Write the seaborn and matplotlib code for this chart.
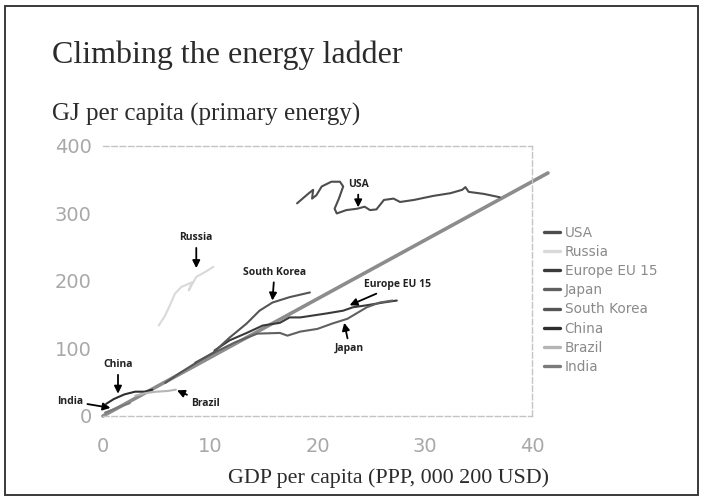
import numpy as np
import pandas as pd
import matplotlib
matplotlib.use("Agg")
import matplotlib.pyplot as plt
from matplotlib.patches import Rectangle
import seaborn as sns

# GDP per capita (thousand USD, PPP) and primary energy per capita (GJ)
usa_gdp = [18.1, 19.2, 19.6, 19.5, 19.9, 20.4, 21.3, 22.1, 22.4, 22.0, 21.6, 21.8,
           22.7, 23.7, 24.4, 24.9, 25.5, 26.2, 27.1, 27.7, 29.0, 30.8, 32.4, 33.5,
           33.8, 34.1, 35.5, 37.0]
usa_gj = [315, 330, 335, 322, 327, 340, 347, 347, 340, 322, 307, 300,
          305, 307, 310, 305, 306, 320, 322, 317, 320, 326, 330, 335,
          339, 332, 329, 324]

russia_gdp = [5.2, 5.8, 6.3, 6.7, 7.3, 8.3, 8.0, 8.7, 9.5, 10.3]
russia_gj = [134, 149, 166, 181, 191, 198, 186, 206, 213, 221]

europe_gdp = [10.4, 11.8, 13.4, 14.9, 16.5, 17.4, 18.4, 20.9, 22.4, 23.3, 24.6, 26.1, 27.4]
europe_gj = [97, 112, 123, 134, 138, 146, 146, 152, 156, 161, 164, 168, 171]

japan_gdp = [8.6, 10.4, 12.3, 14.4, 16.5, 17.2, 18.4, 20.0, 21.4, 22.8, 24.6, 25.8, 27.0]
japan_gj = [79, 94, 109, 122, 123, 119, 125, 129, 137, 144, 161, 168, 171]

korea_gdp = [5.8, 7.2, 9.0, 10.3, 11.8, 13.4, 14.6, 15.8, 17.4, 19.3]
korea_gj = [49, 64, 82, 94, 116, 137, 156, 168, 176, 183]

china_gdp = [0.3, 1.0, 2.0, 3.0, 3.9, 4.6]
china_gj = [18, 25, 32, 36, 36, 39]

brazil_gdp = [3.0, 4.0, 5.0, 6.0, 6.8]
brazil_gj = [30, 34, 36, 37, 39]

india_gdp = [0.2, 1.0, 1.8, 2.5]
india_gj = [5, 10, 15, 19]

trend_gdp = [0, 41.5]
trend_gj = [0, 360]

countries = ["USA", "Russia", "Europe EU 15", "Japan", "South Korea", "China", "Brazil", "India"]
series = {
    "USA": (usa_gdp, usa_gj),
    "Russia": (russia_gdp, russia_gj),
    "Europe EU 15": (europe_gdp, europe_gj),
    "Japan": (japan_gdp, japan_gj),
    "South Korea": (korea_gdp, korea_gj),
    "China": (china_gdp, china_gj),
    "Brazil": (brazil_gdp, brazil_gj),
    "India": (india_gdp, india_gj),
}
palette = {
    "USA": "#4d4d4d",
    "Russia": "#d9d9d9",
    "Europe EU 15": "#3a3a3a",
    "Japan": "#606060",
    "South Korea": "#555555",
    "China": "#2e2e2e",
    "Brazil": "#b5b5b5",
    "India": "#7a7a7a",
}

rows = []
for name in countries:
    gx, gy = series[name]
    for i, (a, b) in enumerate(zip(gx, gy)):
        rows.append({"country": name, "step": i, "gdp": a, "gj": b})
df = pd.DataFrame(rows)

sns.set_theme(style="white")
plt.rcParams["font.family"] = ["DejaVu Sans"]

fig = plt.figure(figsize=(7.02, 5.01), dpi=100)
ax = fig.add_axes([0.1467, 0.1697, 0.611, 0.539])

# reference diagonal
sns.lineplot(x=trend_gdp, y=trend_gj, ax=ax, color="#8c8c8c", linewidth=2.6,
             sort=False, estimator=None, legend=False)
ax.lines[-1].set_clip_on(False)

sns.lineplot(data=df, x="gdp", y="gj", hue="country", hue_order=countries,
             palette=palette, units="country", estimator=None, sort=False,
             linewidth=1.5, ax=ax)

ax.set_xlim(0, 40)
ax.set_ylim(0, 400)
ax.set_xticks([0, 10, 20, 30, 40])
ax.set_yticks([0, 100, 200, 300, 400])
ax.set_xlabel("")
ax.set_ylabel("")
ax.tick_params(axis="x", length=0, pad=15, labelsize=14, labelcolor="#a8a8a8")
ax.tick_params(axis="y", length=0, pad=8, labelsize=14, labelcolor="#a8a8a8")

for side in ["top", "right", "bottom"]:
    ax.spines[side].set_visible(True)
    ax.spines[side].set_color("#c4c4c4")
    ax.spines[side].set_linewidth(1.0)
    ax.spines[side].set_linestyle((0, (4, 2)))
ax.spines["left"].set_visible(False)

sns.move_legend(ax, "upper left", bbox_to_anchor=(1.0, 0.75), title=None,
                frameon=False, fontsize=9.8, handlelength=1.2,
                handletextpad=0.3, labelspacing=0.38)
leg = ax.get_legend()
for t in leg.get_texts():
    t.set_color("#8a8a8a")
for h in leg.get_lines():
    h.set_linewidth(2.4)

lab = dict(fontsize=7.5, fontweight="bold", family="Open Sans", color="#222222",
           ha="center", va="center")
arr = dict(arrowstyle="-|>", color="black", lw=1.3, mutation_scale=11,
           shrinkA=1, shrinkB=0)
notes = [
    ("USA", (23.8, 309), (23.8, 343)),
    ("Russia", (8.7, 219), (8.7, 264)),
    ("South Korea", (15.8, 171), (16.0, 213)),
    ("Europe EU 15", (23.0, 164), (27.5, 195)),
    ("Japan", (22.5, 138), (23.0, 100)),
    ("China", (1.4, 33), (1.4, 76)),
    ("India", (0.7, 12), (-3.1, 22)),
    ("Brazil", (6.9, 38), (9.6, 19)),
]
for text, tip, pos in notes:
    ax.annotate(text, xy=tip, xytext=pos, arrowprops=arr, annotation_clip=False, **lab)

serif = ["Liberation Serif", "DejaVu Serif"]
fig.text(52 / 702, 1 - 55 / 501, "Climbing the energy ladder", family=serif,
         fontsize=23, color="#2b2b2b", ha="left", va="center")
fig.text(52 / 702, 1 - 114 / 501, "GJ per capita (primary energy)", family=serif,
         fontsize=18, color="#2b2b2b", ha="left", va="center")
fig.text(388 / 702, 1 - 478 / 501, "GDP per capita (PPP, 000 200 USD)", family=serif,
         fontsize=15.8, color="#2b2b2b", ha="center", va="center")

fig.patches.append(Rectangle((5 / 702, 6 / 501), 693 / 702, 489 / 501,
                             transform=fig.transFigure, fill=False,
                             edgecolor="#3a3a3a", linewidth=1.4))

fig.savefig("out.png", dpi=100)
